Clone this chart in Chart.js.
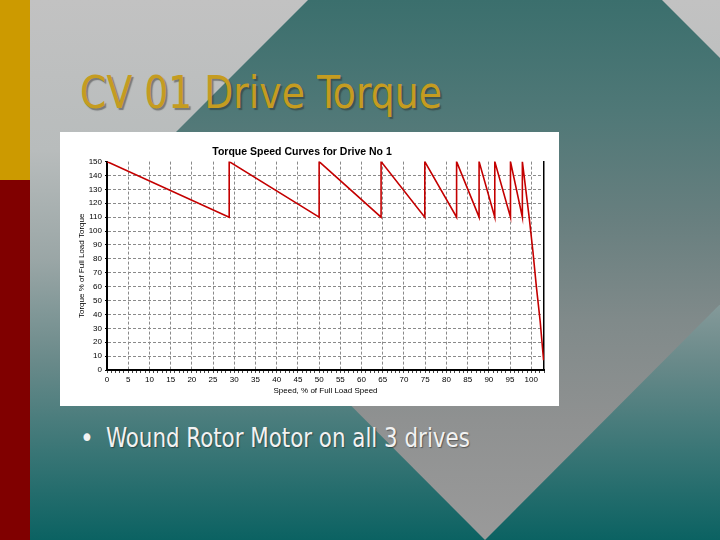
<!DOCTYPE html>
<html>
<head>
<meta charset="utf-8">
<script src="https://cdn.jsdelivr.net/npm/chart.js@4.4.1/dist/chart.umd.min.js"></script>
<style>
body{margin:0;width:720px;height:540px;overflow:hidden;position:relative;font-family:"DejaVu Sans Condensed","DejaVu Sans",sans-serif;}
.abs{position:absolute;}
#bg{left:0;top:0;width:720px;height:540px;
  background:linear-gradient(to bottom,#c2c2c2 0px,#b8bcbc 150px,#9aa6a6 260px,#6a8a8a 360px,#3a7676 450px,#0b6262 540px);}
#diamond{left:0;top:0;width:720px;height:540px;
  background:linear-gradient(to bottom,#3b6f6d 0px,#4f7877 110px,#687f7f 220px,#808a8a 320px,#8f9191 420px,#9a9a9a 540px);
  clip-path:polygon(485px -177px,843px 181px,485px 540px,127px 181px);}
#bar1{left:0;top:0;width:30px;height:180px;background:#cc9a00;}
#bar2{left:0;top:180px;width:30px;height:360px;background:#800000;}
#title{left:80px;top:66px;font-size:45px;color:#c59c20;white-space:nowrap;transform-origin:0 0;
  text-shadow:2px 2px 1px rgba(40,40,40,0.45);}
#bullet{left:106px;top:423px;font-size:26px;color:#f2f2f2;white-space:nowrap;transform-origin:0 0;
  text-shadow:1px 1px 1px rgba(30,30,30,0.5);}
#dot{left:80px;top:423px;font-size:26px;color:#f2f2f2;}
#box{left:60px;top:132px;width:499px;height:274px;background:#fff;}
</style>
</head>
<body>
<div id="bg" class="abs"></div>
<div id="diamond" class="abs"></div>
<div id="bar1" class="abs"></div>
<div id="bar2" class="abs"></div>
<div id="title" class="abs">CV 01 Drive Torque</div>
<div id="dot" class="abs">•</div>
<div id="bullet" class="abs">Wound Rotor Motor on all 3 drives</div>
<div id="box" class="abs"><canvas id="chart" width="499" height="274"></canvas></div>
<script>
// squeeze the slide texts to the widths seen in the picture
function fit_width(id, w){
    var el = document.getElementById(id);
    el.style.transform = 'scaleX(' + (w / el.offsetWidth) + ')';
}
fit_width('title', 362);
fit_width('bullet', 364);

// speed (% of full load speed) and torque (% of full load torque)
var speed  = [0, 28.8, 28.8, 50.0, 50.0, 64.6, 64.6, 74.9, 74.9, 82.4, 82.4, 87.7, 87.7, 91.4, 91.4, 95.1, 95.1, 97.9, 97.9, 99.5, 100.4, 101.2, 102.1, 102.9];
var torque = [150, 110, 150, 110, 150, 110, 150, 110, 150, 110, 150, 110, 150, 110, 150, 110, 150, 110, 150, 110, 85, 60, 35, 7];

var chart_title = 'Torque Speed Curves for Drive No 1';
var x_title = 'Speed, % of Full Load Speed';
var y_title = 'Torque % of Full Load Torque';

var points = [];
for(var i = 0; i < speed.length; i++){
    points.push({x: speed[i], y: torque[i]});
}

var tick_font = {family: '"Liberation Sans", Arial, sans-serif', size: 8};
var grid_gray = '#8a8a8a';

const data = {
    datasets: [{
        label: 'Drive No 1',
        data: points,
        borderColor: '#c40000',
        borderWidth: 1.6,
        pointRadius: 0,
        tension: 0,
        fill: false
    }]
};

const config = {
    type: 'line',
    data,
    options: {
        responsive: false,
        animation: false,
        layout: {padding: {left: 0, right: 15, top: 0, bottom: 0}},
        plugins: {
            legend: {display: false},
            tooltip: {enabled: false},
            title: {
                display: true,
                text: chart_title,
                color: '#000',
                font: {family: '"Liberation Sans", Arial, sans-serif', size: 10.5, weight: 'bold'},
                padding: {top: 14, bottom: 3}
            }
        },
        scales: {
            x: {
                type: 'linear',
                min: 0,
                max: 103,
                afterFit: function(scale){ scale.height = 36; },
                ticks: {
                    stepSize: 1,
                    autoSkip: false,
                    maxRotation: 0,
                    minRotation: 0,
                    padding: 2,
                    color: '#000',
                    font: tick_font,
                    callback: function(v){ return (v % 5 === 0 && v <= 100) ? v : ''; }
                },
                grid: {
                    color: function(ctx){
                        var v = ctx.tick ? ctx.tick.value : -1;
                        return (v % 5 === 0 && v > 0 && v <= 100) ? grid_gray : 'rgba(0,0,0,0)';
                    },
                    tickColor: '#444',
                    tickLength: 3,
                    lineWidth: 1
                },
                border: {display: true, color: '#000', width: 2, dash: [3, 2]},
                title: {
                    display: true,
                    text: x_title,
                    color: '#000',
                    font: tick_font,
                    padding: {top: 0, bottom: 10}
                }
            },
            y: {
                min: 0,
                max: 150,
                afterFit: function(scale){ scale.width = 47; },
                ticks: {
                    stepSize: 10,
                    padding: 3,
                    color: '#000',
                    font: tick_font
                },
                grid: {
                    color: function(ctx){
                        var v = ctx.tick ? ctx.tick.value : -1;
                        return (v > 0 && v < 150) ? grid_gray : 'rgba(0,0,0,0)';
                    },
                    tickColor: '#000',
                    tickLength: 2,
                    lineWidth: 1
                },
                border: {display: true, color: '#000', width: 2, dash: [3, 2]},
                title: {
                    display: true,
                    text: y_title,
                    color: '#000',
                    font: tick_font,
                    padding: {top: 17, bottom: 0}
                }
            },
            y2: {
                position: 'right',
                min: 0,
                max: 150,
                afterFit: function(scale){ scale.width = 0; },
                ticks: {display: false},
                grid: {display: false},
                border: {display: true, color: '#000', width: 1.5}
            }
        }
    }
};

const ctx = document.getElementById('chart').getContext('2d');
const myChart = new Chart(ctx, config);
</script>
</body>
</html>
